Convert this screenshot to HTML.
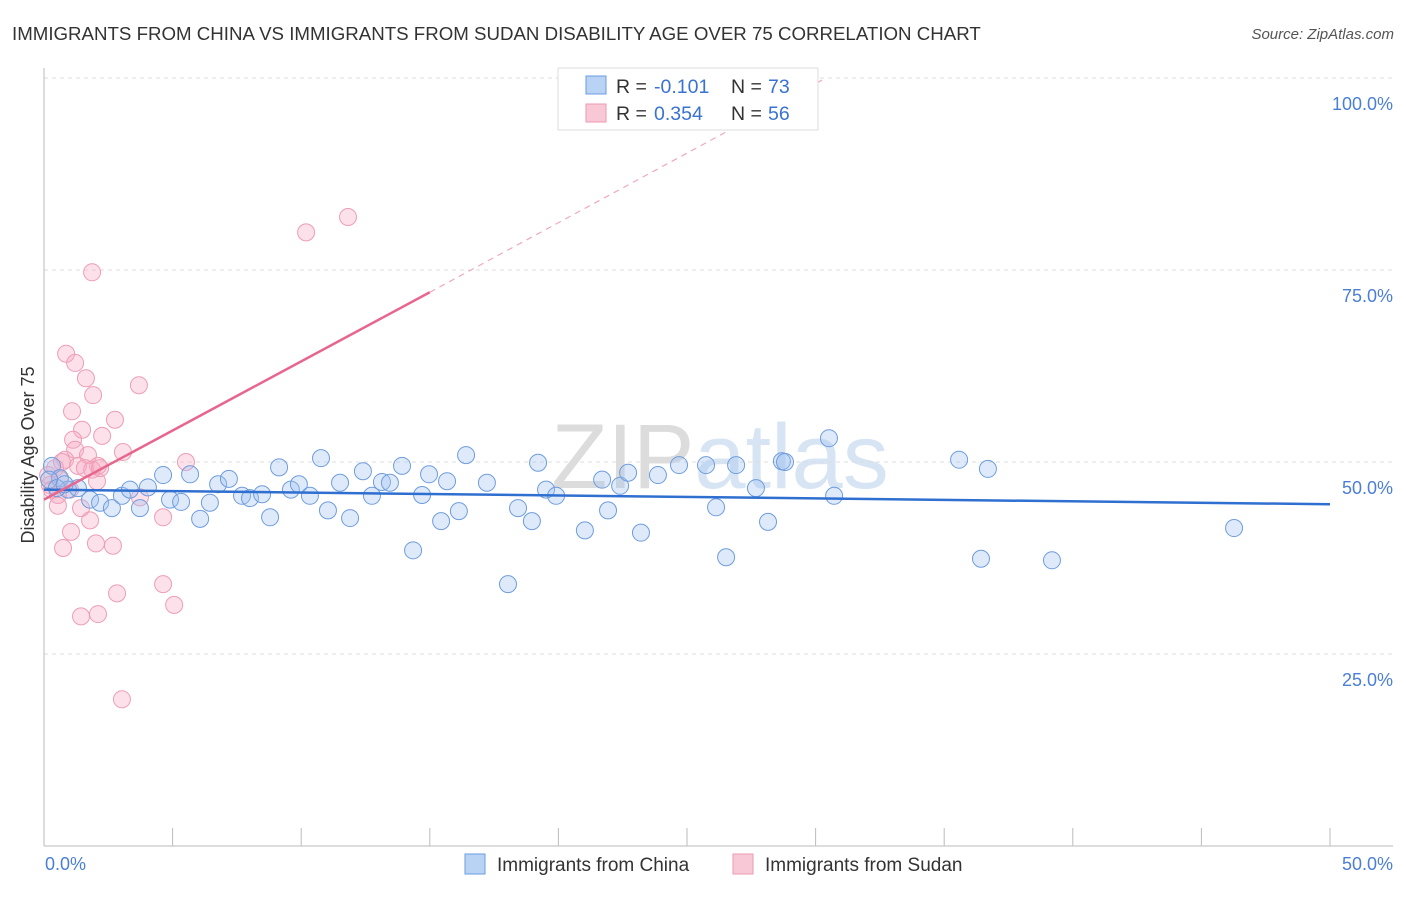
<!DOCTYPE html>
<html><head><meta charset="utf-8"><style>
body{margin:0;background:#fff;font-family:"Liberation Sans",sans-serif;}
svg text{font-family:"Liberation Sans",sans-serif;}
</style></head><body>
<svg width="1406" height="892" viewBox="0 0 1406 892">
<text x="12" y="40" font-size="18.7" fill="#333">IMMIGRANTS FROM CHINA VS IMMIGRANTS FROM SUDAN DISABILITY AGE OVER 75 CORRELATION CHART</text>
<text x="1394" y="39" font-size="15" fill="#555" font-style="italic" text-anchor="end">Source: ZipAtlas.com</text>
<text x="720" y="488" font-size="92" fill="#e6e6e6" text-anchor="middle" font-family="Liberation Serif"><tspan fill="#dcdcdc">ZIP</tspan><tspan fill="#d6e4f4" font-family="Liberation Sans">atlas</tspan></text>
<g id="grid"></g>
<g id="axes"></g>
<g id="pts"></g>
<g id="trend"></g>
<text transform="translate(34,455) rotate(-90)" font-size="18" fill="#333" text-anchor="middle">Disability Age Over 75</text>
<text x="45" y="870" font-size="18" fill="#4a7fd4">0.0%</text>
<text x="1393" y="870" font-size="18" fill="#4a7fd4" text-anchor="end">50.0%</text>
<g>
<rect x="558" y="68" width="260" height="62" fill="#fff" stroke="#ddd"/>
<rect x="586" y="76" width="20" height="18" fill="#b9d3f5" stroke="#6b9be0"/>
<text x="616" y="93" font-size="19.5" fill="#333">R =</text>
<text x="654" y="93" font-size="19.5" fill="#3a72d0">-0.101</text>
<text x="731" y="93" font-size="19.5" fill="#333">N =</text>
<text x="768" y="93" font-size="19.5" fill="#3a72d0">73</text>
<rect x="586" y="104" width="20" height="18" fill="#f8c8d6" stroke="#ec98b0"/>
<text x="616" y="120" font-size="19.5" fill="#333">R =</text>
<text x="654" y="120" font-size="19.5" fill="#3a72d0">0.354</text>
<text x="731" y="120" font-size="19.5" fill="#333">N =</text>
<text x="768" y="120" font-size="19.5" fill="#3a72d0">56</text>
</g>
<g><rect x="465" y="854" width="20" height="20" fill="#b9d3f5" stroke="#6b9be0"/><text x="497" y="871" font-size="19" fill="#333">Immigrants from China</text></g>
<g><rect x="733" y="854" width="20" height="20" fill="#f8c8d6" stroke="#ec98b0"/><text x="765" y="871" font-size="19" fill="#333">Immigrants from Sudan</text></g>
</svg>
<script>
const yTicks=[100,75,50,25];
const yTickLabels=["100.0%","75.0%","50.0%","25.0%"];
const xTicks=[0,5,10,15,20,25,30,35,40,45,50];
const chinaX=[0.31,0.62,0.93,1.32,1.79,2.18,2.64,3.03,3.34,3.73,4.04,4.63,4.90,5.33,5.68,6.07,6.45,6.77,7.19,7.70,8.01,8.48,8.79,9.14,9.60,9.91,10.34,10.77,11.04,11.51,11.90,12.40,12.75,13.14,13.45,13.92,14.35,14.70,14.97,15.44,15.67,16.13,16.41,17.22,18.04,18.43,18.97,19.21,19.52,19.91,21.03,21.70,21.93,22.40,22.71,23.21,23.87,24.69,25.74,26.13,26.52,26.91,27.68,28.15,28.69,28.81,30.52,30.72,35.58,36.43,36.70,39.19,46.27,0.2,0.5,0.8];
const chinaY=[49.5,47.9,46.4,46.6,45.1,44.7,44.0,45.6,46.4,44.0,46.7,48.3,45.1,44.8,48.4,42.6,44.7,47.1,47.8,45.6,45.3,45.8,42.8,49.3,46.4,47.1,45.6,50.5,43.7,47.3,42.7,48.8,45.6,47.4,47.3,49.5,38.5,45.7,48.4,42.3,47.5,43.6,50.9,47.3,34.1,44.0,42.3,49.9,46.4,45.6,41.1,47.7,43.7,46.9,48.6,40.8,48.3,49.6,49.6,44.1,37.6,49.6,46.6,42.2,50.1,50.0,53.1,45.6,50.3,37.4,49.1,37.2,41.4,47.7,46.6,47.1];
const sudanX=[0.86,1.21,1.63,1.91,1.87,3.69,1.09,2.76,1.48,1.13,2.26,3.07,5.52,1.21,1.71,0.82,2.10,1.32,0.43,1.87,0.62,2.06,0.23,1.01,0.54,1.44,0.54,3.73,4.63,1.79,1.05,2.02,2.68,0.74,4.63,2.84,5.06,1.44,2.10,3.03,10.19,11.82,0.16,0.31,0.70,1.59,2.18];
const sudanY=[64.1,62.9,60.9,58.7,74.7,60.0,56.6,55.5,54.2,52.9,53.4,51.3,50.0,51.6,50.9,50.3,49.5,49.5,49.2,49.0,47.7,47.5,47.0,46.4,45.7,44.0,44.3,45.4,42.8,42.4,40.9,39.4,39.1,38.8,34.1,32.9,31.4,29.9,30.2,19.1,79.9,81.9,48.3,46.4,50.0,49.2,49.2];
const chinaTrend=[[0,46.4],[50,44.5]];
const sudanTrendSolid=[[0,45.1],[15,72.1]];
const sudanTrendDash=[[15,72.1],[30.4,100]];
const NS='http://www.w3.org/2000/svg';
const X=v=>44+v/50*1286, Y=v=>846-v/100*768;
function mk(t,a,p){const e=document.createElementNS(NS,t);for(const k in a)e.setAttribute(k,a[k]);p.appendChild(e);return e;}
const grid=document.getElementById('grid'),axes=document.getElementById('axes'),pts=document.getElementById('pts'),tr=document.getElementById('trend');
yTicks.forEach((v,i)=>{
 const l=mk('line',{x1:44,x2:1393,y1:Y(v),y2:Y(v),stroke:'#ddd','stroke-dasharray':'4,4'},grid);
 
 
 const t=mk('text',{x:1393,y:Y(v)+32,'font-size':18,fill:'#4a7fd4','text-anchor':'end'},grid);
 t.textContent=yTickLabels[i];
 
 
});
const tl=mk('line',{x1:44,x2:1393,y1:78,y2:78,stroke:'#ddd','stroke-dasharray':'4,4'},grid);


const xa=mk('line',{x1:44,x2:1393,y1:846,y2:846,stroke:'#bbb'},axes);


const ya=mk('line',{x1:44,x2:44,y1:68,y2:846,stroke:'#bbb'},axes);


xTicks.forEach(v=>{const l=mk('line',{x1:X(v),x2:X(v),y1:828,y2:846,stroke:'#bbb'},axes);
 
 });
function dots(xs,ys,fill,stroke,name){xs.forEach((x,i)=>{const c=mk('circle',{cx:X(x),cy:Y(ys[i]),r:8.5,fill:fill,stroke:stroke,'stroke-width':1},pts);
 
 });}
dots(sudanX,sudanY,'rgba(245,170,195,0.35)','#ee9db5','sudan-point');
dots(chinaX,chinaY,'rgba(160,195,240,0.35)','#6f9ddd','china-point');
function line(p,st,w,dash,name){const l=mk('line',{x1:X(p[0][0]),y1:Y(p[0][1]),x2:X(p[1][0]),y2:Y(p[1][1]),stroke:st,'stroke-width':w},tr);if(dash)l.setAttribute('stroke-dasharray',dash);
 
 }
line(chinaTrend,'#2f6fd0',2.5,null,'china-trendline');
line(sudanTrendSolid,'#e8668e',2.5,null,'sudan-trendline');
line(sudanTrendDash,'#f0a8bc',1.2,'6,5','sudan-trendline-extension');
</script>
</body></html>
